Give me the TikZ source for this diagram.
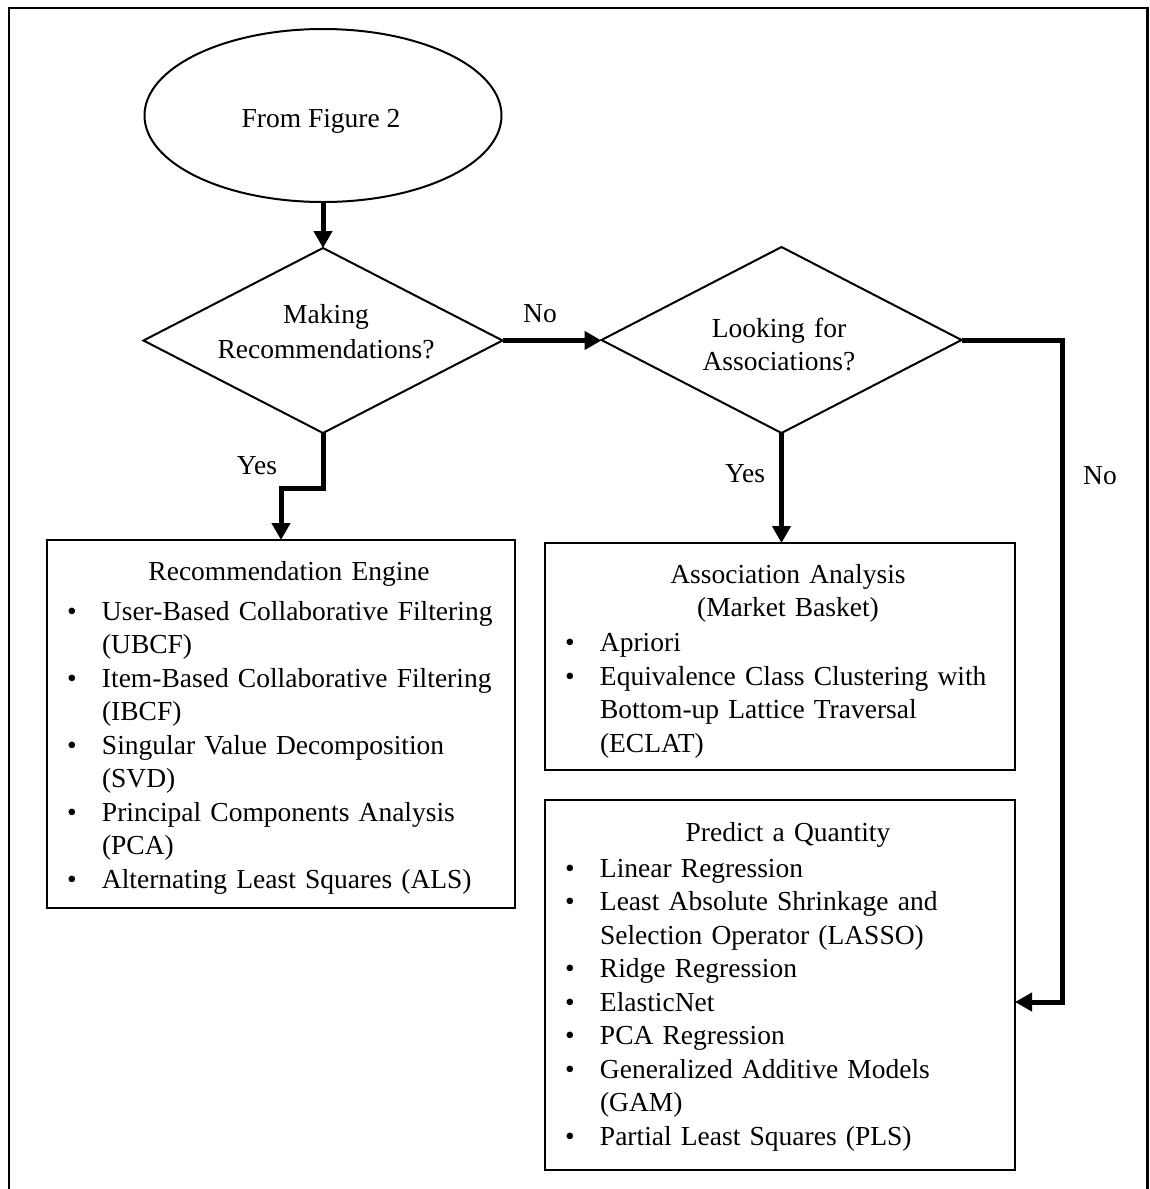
\documentclass[tikz,border=0pt]{standalone}
\usepackage{fontspec}
\setmainfont{Liberation Serif}
\usetikzlibrary{arrows.meta,shapes.geometric,calc}

% list helpers: centred heading, bulleted entry, continuation line
\setlength\parindent{0pt}
\newcommand\ttl[1]{\leavevmode\hbox to \linewidth{\hfil#1\hfil}\par}
\newcommand\itm[1]{\leavevmode\hbox to 35pt{\textbullet\hfil}\mbox{#1}\par}
\newcommand\ctd[1]{\leavevmode\hspace*{35pt}\mbox{#1}\par}

\begin{document}
\begin{tikzpicture}[x=1pt,y=-1pt,
  font=\fontsize{27.5}{33.5}\selectfont,
  outline/.style={draw, line width=2pt, inner sep=0pt, outer sep=0pt},
  boxnode/.style={outline, rectangle, anchor=north west},
  listtxt/.style={anchor=base west, inner sep=0pt, outer sep=0pt},
  dtxt/.style={anchor=base, inner sep=0pt, align=center, text width=330pt},
  lbl/.style={anchor=base, inner sep=0pt},
  flow/.style={line width=5pt, line join=miter, -{Triangle[width=18pt,length=17pt]}},
  frame/.style={line width=2.2pt, line join=miter}]

\useasboundingbox (0,0) rectangle (1150,1189);

% outer frame, open at the bottom
\draw[frame] (9.3,1189) -- (9.3,8.3) -- (1147.5,8.3) -- (1147.5,1189);

% start terminal
\node[outline, ellipse, minimum width=357pt, minimum height=173pt] (start) at (323,115.5) {};
\node[lbl] (starttxt) at (321,127) {From Figure 2};

% decisions
\node[outline, diamond, minimum width=359pt, minimum height=185pt] (d1) at (323,340.5) {};
\node[dtxt, font=\fontsize{27.5}{35}\selectfont] (d1txt) at (326,323) {Making\\Recommendations?};

\node[outline, diamond, minimum width=360pt, minimum height=186pt] (d2) at (781.5,340) {};
\node[dtxt, font=\fontsize{27.5}{33}\selectfont] (d2txt) at (779,337) {Looking for\\Associations?};

% result boxes
\node[boxnode, minimum width=468pt, minimum height=368pt] (box1) at (47,540) {};
\node[listtxt, text width=444pt] (box1txt) at (67,580) {%
  \ttl{Recommendation Engine}\vspace{6.5pt}%
  \itm{User-Based Collaborative Filtering}%
  \ctd{(UBCF)}%
  \itm{Item-Based Collaborative Filtering}%
  \ctd{(IBCF)}%
  \itm{Singular Value Decomposition}%
  \ctd{(SVD)}%
  \itm{Principal Components Analysis}%
  \ctd{(PCA)}%
  \itm{Alternating Least Squares (ALS)}};

\node[boxnode, minimum width=470pt, minimum height=227pt] (box2) at (545,543) {};
\node[listtxt, text width=446pt] (box2txt) at (565,583) {%
  \ttl{Association Analysis}%
  \ttl{(Market Basket)}\vspace{1.5pt}%
  \itm{Apriori}%
  \itm{Equivalence Class Clustering with}%
  \ctd{Bottom-up Lattice Traversal}%
  \ctd{(ECLAT)}};

\node[boxnode, minimum width=470pt, minimum height=370pt] (box3) at (545,800) {};
\node[listtxt, text width=446pt] (box3txt) at (565,841) {%
  \ttl{Predict a Quantity}\vspace{2.5pt}%
  \itm{Linear Regression}%
  \itm{Least Absolute Shrinkage and}%
  \ctd{Selection Operator (LASSO)}%
  \itm{Ridge Regression}%
  \itm{ElasticNet}%
  \itm{PCA Regression}%
  \itm{Generalized Additive Models}%
  \ctd{(GAM)}%
  \itm{Partial Least Squares (PLS)}};

% connectors
\draw[flow] (start.south) -- (d1.north);
\draw[flow] (d1.east) -- (d1.east -| d2.west);
\draw[flow] (d1.south) -- ++(0,55) -| (box1.north);
\draw[flow] (d2.south) -- (d2.south |- box2.north);
\coordinate (nobend) at (1062,340);
\draw[flow] (d2.east) -- (nobend) |- ([yshift=-17pt]box3.east);

% branch labels
\node[lbl] (no1) at (540,322) {No};
\node[lbl] (yes1) at (257,474) {Yes};
\node[lbl] (yes2) at (745,482) {Yes};
\node[lbl] (no2) at (1100,484) {No};
\end{tikzpicture}
\end{document}
